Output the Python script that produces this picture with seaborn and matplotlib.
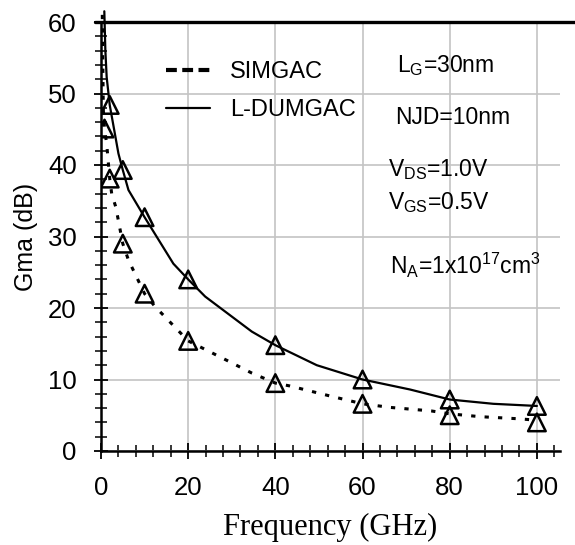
import numpy as np
import pandas as pd
import matplotlib
matplotlib.use("Agg")
import matplotlib.pyplot as plt
from matplotlib.lines import Line2D
import seaborn as sns

# ---- data ----
sim_curve_x = [0.3, 0.53, 0.8, 1.3, 2, 2.45, 3.4, 5, 6.3, 10, 12.4, 20, 28.8, 34.6, 40, 43.3, 52.5, 60, 66.3, 75.8, 80, 87, 96, 100]
sim_curve_y = [61.0, 47.7, 45.1, 43.0, 38.1, 36.0, 34.1, 29.0, 26.7, 22.0, 20.2, 15.4, 12.7, 10.9, 9.5, 9.1, 7.7, 6.6, 6.1, 5.6, 5.2, 4.8, 4.5, 4.3]
ldum_curve_x = [0.76, 1.0, 1.3, 2, 4, 5, 6.3, 10, 16.6, 20, 23.9, 34.6, 40, 49.5, 60, 70.9, 80, 90, 100]
ldum_curve_y = [61.5, 56.0, 52.3, 48.4, 41.6, 39.3, 36.5, 32.7, 26.2, 24.0, 21.6, 16.7, 14.8, 12.0, 10.0, 8.6, 7.2, 6.6, 6.3]

sim_mark_x = [0.8, 2, 5, 10, 20, 40, 60, 80, 100]
sim_mark_y = [45.1, 38.1, 29.0, 22.0, 15.4, 9.5, 6.6, 5.0, 4.0]
ldum_mark_x = [2, 5, 10, 20, 40, 60, 80, 100]
ldum_mark_y = [48.4, 39.3, 32.7, 24.0, 14.8, 10.0, 7.2, 6.3]

series_names = ["SIMGAC", "L-DUMGAC"]
x_ticks = [0, 20, 40, 60, 80, 100]
y_ticks = [0, 10, 20, 30, 40, 50, 60]
annotations = [r"$\mathregular{L_G}$=30nm", "NJD=10nm", r"$\mathregular{V_{DS}}$=1.0V",
               r"$\mathregular{V_{GS}}$=0.5V", r"$\mathregular{N_A}$=1x10$\mathregular{^{17}}$cm$\mathregular{^{3}}$"]

sns.set_theme(style="white")
plt.rcParams["font.family"] = ["Liberation Sans", "DejaVu Sans"]
plt.rcParams["mathtext.fontset"] = "custom"
plt.rcParams["mathtext.rm"] = "Liberation Sans"
plt.rcParams["mathtext.it"] = "Liberation Sans:italic"
for k in ["text.color", "axes.labelcolor", "xtick.color", "ytick.color"]:
    plt.rcParams[k] = "black"

fig = plt.figure(figsize=(5.75, 5.45), dpi=100)
ax = fig.add_axes([101/575, 1-451/545, (560-101)/575, (451-22)/545])

sim_df = pd.DataFrame({"f": sim_curve_x, "g": sim_curve_y})
ldum_df = pd.DataFrame({"f": ldum_curve_x, "g": ldum_curve_y})
simm_df = pd.DataFrame({"f": sim_mark_x, "g": sim_mark_y})
ldumm_df = pd.DataFrame({"f": ldum_mark_x, "g": ldum_mark_y})

sns.lineplot(data=sim_df, x="f", y="g", ax=ax, color="black", lw=2.2, sort=False,
             estimator=None, legend=False)
ax.lines[-1].set_dashes((1.4, 3.0))
ax.lines[-1].set_clip_on(False)
sns.lineplot(data=ldum_df, x="f", y="g", ax=ax, color="black", lw=1.6, sort=False,
             estimator=None, legend=False)
ax.lines[-1].set_clip_on(False)

for d in (simm_df, ldumm_df):
    sns.scatterplot(data=d, x="f", y="g", ax=ax, marker="^", s=160, facecolor="none",
                    edgecolor="black", linewidth=1.8, legend=False, zorder=5)

ax.set_xlim(0, 105.3)
ax.set_ylim(0, 60)
ax.set_xticks(x_ticks)
ax.set_yticks(y_ticks)
ax.set_xticks(np.arange(0, 105, 4), minor=True)
ax.set_yticks(np.arange(0, 61, 2), minor=True)
ax.grid(True, which="major", color="#c4c4c4", lw=1.2)
ax.set_axisbelow(True)

for s in ["right", "top"]:
    ax.spines[s].set_visible(False)
for s in ["left", "bottom"]:
    ax.spines[s].set_color("black")
    ax.spines[s].set_linewidth(1.8)
# heavy line along the top at 60
ax.add_line(Line2D([-0.014, 1.035], [1, 1], transform=ax.transAxes, color="black",
                   lw=2.4, clip_on=False))

ax.tick_params(axis="x", which="major", direction="inout", length=12, width=1.3,
               color="black", labelsize=18.5, pad=12, bottom=True)
ax.tick_params(axis="x", which="minor", direction="inout", length=9, width=1.1,
               color="black", bottom=True)
ax.tick_params(axis="y", which="major", direction="inout", length=10, width=1.3,
               color="black", labelsize=18.5, pad=12.5, left=True)
ax.tick_params(axis="y", which="minor", direction="inout", length=8, width=1.1,
               color="black", left=True)

ax.set_xlabel("Frequency (GHz)", fontsize=22, family=["Liberation Serif"], color="black", labelpad=9)
ax.set_ylabel("Gma (dB)", fontsize=18, color="black", labelpad=7)

handles = [Line2D([], [], color="black", lw=3.0, dashes=(2.6, 1.3)),
           Line2D([], [], color="black", lw=1.6)]
leg = ax.legend(handles, series_names, loc="upper left", bbox_to_anchor=(0.096, 0.958),
                frameon=False, fontsize=17, handlelength=1.85, handletextpad=0.85,
                labelspacing=0.68)
for t in leg.get_texts():
    t.set_color("black")

ann_pos = [(67.9, 53.9), (67.4, 46.7), (65.8, 39.3), (65.8, 34.8), (66.3, 26.0)]
for txt, (xx, yy) in zip(annotations, ann_pos):
    ax.text(xx, yy, txt, fontsize=16.5, color="black", va="center", ha="left")

fig.savefig("out.png", dpi=100)
